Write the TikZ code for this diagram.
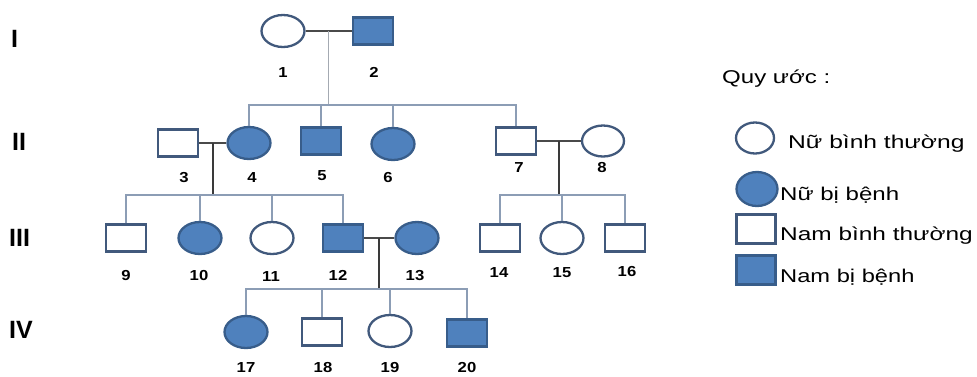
\documentclass[tikz,border=0pt]{standalone}
\usepackage{fontspec}
\usepackage{graphicx}
\setmainfont{Liberation Sans}
\usetikzlibrary{shapes.geometric,calc}
\definecolor{fillb}{HTML}{4F81BD}
\definecolor{edgef}{HTML}{385D8A}
\definecolor{edgeb}{HTML}{41597C}
\definecolor{sibc}{HTML}{8C9DB5}
\definecolor{descc}{HTML}{3A3A3A}
\definecolor{descl}{HTML}{A4AAB2}
\definecolor{marc}{HTML}{4A4A4A}
\newcommand\widetxt[2]{\scalebox{#1}[1]{#2}}
\begin{document}
\begin{tikzpicture}[x=1pt,y=-1pt,
  fem/.style={ellipse, draw=edgeb, line width=2.3pt, minimum width=43pt, minimum height=32pt, inner sep=0pt, fill=white},
  mal/.style={rectangle, draw=edgeb, line width=2.3pt, minimum width=40pt, minimum height=27pt, inner sep=0pt, fill=white},
  aff/.style={fill=fillb, draw=edgef},
  num/.style={font=\fontsize{14.5}{14.5}\selectfont\bfseries, inner sep=0pt, anchor=base},
  gen/.style={font=\fontsize{25}{25}\selectfont\bfseries, inner sep=0pt, anchor=base west},
  leg/.style={font=\fontsize{18.5}{18.5}\selectfont, inner sep=0pt, anchor=base west},
  sib/.style={draw=sibc, line width=1.3pt},
  desc/.style={draw=descc, line width=1.8pt},
  descli/.style={draw=descl, line width=1.3pt},
  mar/.style={draw=marc, line width=1.2pt}]
\useasboundingbox (0,0) rectangle (977,376);

% generation labels
\node[gen] (gI)   at (11,47)  {I};
\node[gen] (gII)  at (12,150) {II};
\node[gen] (gIII) at (9,246)  {III};
\node[gen] (gIV)  at (9,338)  {IV};

% generation I
\node[fem] (n1) at (283,31) {};
\node[mal,aff] (n2) at (373,31) {};
% generation II
\node[mal] (n3) at (178,143) {};
\node[fem,aff] (n4) at (249,143) {};
\node[mal,aff] (n5) at (321,141) {};
\node[fem,aff] (n6) at (393,144) {};
\node[mal] (n7) at (516,141) {};
\node[fem, minimum width=42pt, minimum height=31pt] (n8) at (603,141) {};
% generation III
\node[mal] (n9)  at (126,238) {};
\node[fem,aff] (n10) at (200,238) {};
\node[fem] (n11) at (272,238) {};
\node[mal,aff] (n12) at (343,238) {};
\node[fem,aff] (n13) at (417,238) {};
\node[mal] (n14) at (500,238) {};
\node[fem] (n15) at (562,238) {};
\node[mal] (n16) at (625,238) {};
% generation IV
\node[fem,aff] (n17) at (246,332) {};
\node[mal] (n18) at (322,332) {};
\node[fem] (n19) at (390,331) {};
\node[mal,aff] (n20) at (467,333) {};

% number labels
\node[num] (l1) at (283,77) {\widetxt{1.15}{1}};
\node[num] (l2) at (374,77) {\widetxt{1.15}{2}};
\node[num] (l3) at (184,182) {\widetxt{1.15}{3}};
\node[num] (l4) at (252,182) {\widetxt{1.15}{4}};
\node[num] (l5) at (322,180) {\widetxt{1.15}{5}};
\node[num] (l6) at (388,182) {\widetxt{1.15}{6}};
\node[num] (l7) at (519,172) {\widetxt{1.15}{7}};
\node[num] (l8) at (602,172) {\widetxt{1.15}{8}};
\node[num] (l9)  at (126,280) {\widetxt{1.15}{9}};
\node[num] (l10) at (199,280) {\widetxt{1.15}{10}};
\node[num] (l11) at (271,281) {\widetxt{1.15}{11}};
\node[num] (l12) at (338,280) {\widetxt{1.15}{12}};
\node[num] (l13) at (415,280) {\widetxt{1.15}{13}};
\node[num] (l14) at (499,277) {\widetxt{1.15}{14}};
\node[num] (l15) at (562,277) {\widetxt{1.15}{15}};
\node[num] (l16) at (627,276) {\widetxt{1.15}{16}};
\node[num] (l17) at (246,372) {\widetxt{1.15}{17}};
\node[num] (l18) at (323,372) {\widetxt{1.15}{18}};
\node[num] (l19) at (390,372) {\widetxt{1.15}{19}};
\node[num] (l20) at (467,372) {\widetxt{1.15}{20}};

% sibship heights
\coordinate (y1) at (0,105);
\coordinate (y2) at (0,195);
\coordinate (y4) at (0,289);

% marriage lines and descent
\draw[mar] (n1.east) -- (n2.west);
\coordinate (m12) at ($(n1.east)!0.5!(n2.west)$);
\draw[descli] (m12) -- (m12 |- y1);

\draw[mar] (n3.east) -- (n4.west);
\coordinate (m34) at ($(n3.east)!0.5!(n4.west)$);
\draw[desc] (m34) -- (m34 |- y2);

\draw[mar] (n7.east) -- (n8.west);
\coordinate (m78) at ($(n7.east)!0.5!(n8.west)$);
\draw[desc] (m78) -- (m78 |- y2);

\draw[mar] (n12.east) -- (n13.west);
\coordinate (m1213) at ($(n12.east)!0.5!(n13.west)$);
\draw[desc] (m1213) -- (m1213 |- y4);

% sibship lines
\draw[sib] (n4.north) -- (n4.north |- y1) -- (n7.north |- y1) -- (n7.north);
\draw[sib] (n5.north) -- (n5.north |- y1);
\draw[sib] (n6.north) -- (n6.north |- y1);

\draw[sib] (n9.north) -- (n9.north |- y2) -- (n12.north |- y2) -- (n12.north);
\draw[sib] (n10.north) -- (n10.north |- y2);
\draw[sib] (n11.north) -- (n11.north |- y2);

\draw[sib] (n14.north) -- (n14.north |- y2) -- (n16.north |- y2) -- (n16.north);
\draw[sib] (n15.north) -- (n15.north |- y2);

\draw[sib] (n17.north) -- (n17.north |- y4) -- (n20.north |- y4) -- (n20.north);
\draw[sib] (n18.north) -- (n18.north |- y4);
\draw[sib] (n19.north) -- (n19.north |- y4);

% legend
\node[leg] (lq) at (722,83) {\widetxt{1.3}{Quy ước :}};
\node[fem, minimum width=38pt, minimum height=31pt] (k1) at (755,138) {};
\node[leg] (t1) at (788,148) {\widetxt{1.33}{Nữ bình thường}};
\node[fem, aff, minimum width=41pt, minimum height=34pt] (k2) at (757,189) {};
\node[leg] (t2) at (780,200) {\widetxt{1.3}{Nữ bị bệnh}};
\node[mal, minimum width=39pt, minimum height=29pt] (k3) at (756,229) {};
\node[leg] (t3) at (780,240) {\widetxt{1.32}{Nam bình thường}};
\node[mal, aff, minimum width=39pt, minimum height=29pt] (k4) at (756,270) {};
\node[leg] (t4) at (780,282) {\widetxt{1.28}{Nam bị bệnh}};
\end{tikzpicture}
\end{document}
